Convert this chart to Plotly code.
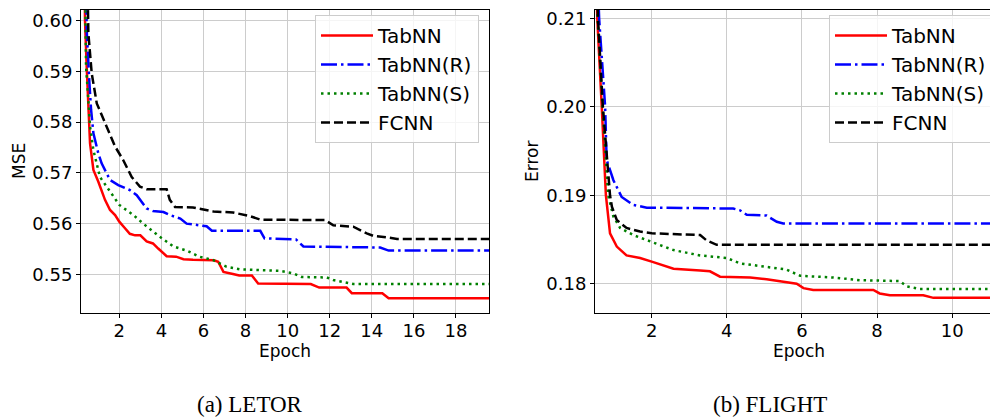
import plotly.graph_objects as go

# ---------------- data: (a) LETOR ----------------
letor_tabnn_x = [0.33, 0.37, 0.45, 0.53, 0.61, 0.77, 1.0, 1.32, 1.56, 1.8, 2.0, 2.25, 2.5, 2.75, 3.0, 3.3, 3.6, 3.85, 4.1, 4.25, 4.7, 5.05, 5.5, 6.5, 6.7, 6.95, 7.4, 7.7, 8.3, 8.6, 11.1, 11.5, 12.8, 13.05, 14.5, 14.8, 19.7]
letor_tabnn_y = [0.620, 0.6001, 0.5909, 0.5824, 0.5758, 0.5706, 0.5683, 0.5647, 0.5627, 0.5617, 0.5604, 0.5592, 0.5580, 0.5577, 0.5577, 0.5565, 0.5561, 0.5551, 0.5541, 0.5536, 0.5535, 0.5530, 0.5529, 0.5528, 0.5525, 0.5505, 0.5501, 0.5498, 0.5498, 0.5482, 0.5481, 0.5474, 0.5474, 0.5463, 0.5463, 0.5453, 0.5453]

letor_r_x = [0.40, 0.45, 0.58, 0.66, 0.77, 1.0, 1.16, 1.56, 1.95, 2.51, 2.83, 3.3, 3.6, 4.1, 4.4, 4.9, 5.2, 6.15, 6.4, 8.7, 8.9, 10.4, 10.75, 14.4, 14.8, 19.7]
letor_r_y = [0.620, 0.5982, 0.5877, 0.5824, 0.5778, 0.5739, 0.5719, 0.5686, 0.5676, 0.5666, 0.5656, 0.5630, 0.5625, 0.5623, 0.5617, 0.5610, 0.5600, 0.5595, 0.5586, 0.5586, 0.5571, 0.5569, 0.5555, 0.5553, 0.5547, 0.5547]

letor_s_x = [0.34, 0.38, 0.42, 0.53, 0.61, 0.77, 0.96, 1.08, 1.40, 1.72, 2.0, 2.67, 3.14, 3.93, 4.57, 5.2, 5.8, 6.47, 7.1, 7.73, 9.63, 10.27, 10.67, 11.86, 12.17, 12.65, 13.12, 19.7]
letor_s_y = [0.620, 0.6020, 0.5909, 0.5844, 0.5791, 0.5745, 0.5712, 0.5692, 0.5673, 0.5653, 0.5637, 0.5617, 0.5600, 0.5574, 0.5555, 0.5547, 0.5535, 0.5528, 0.5515, 0.5510, 0.5507, 0.5502, 0.5495, 0.5494, 0.5489, 0.5485, 0.5481, 0.5481]

letor_fcnn_x = [0.44, 0.53, 0.69, 0.93, 1.40, 1.80, 2.19, 2.59, 2.98, 3.30, 4.25, 4.4, 4.65, 5.5, 6.0, 6.47, 7.4, 7.9, 8.2, 8.7, 11.78, 12.17, 13.12, 13.76, 14.07, 14.7, 15.2, 19.7]
letor_fcnn_y = [0.620, 0.5975, 0.5896, 0.5837, 0.5791, 0.5752, 0.5725, 0.5692, 0.5673, 0.5668, 0.5668, 0.5647, 0.5633, 0.5632, 0.5628, 0.5624, 0.5622, 0.5617, 0.5615, 0.5608, 0.5607, 0.5597, 0.5594, 0.5581, 0.5576, 0.5573, 0.5570, 0.5570]

# ---------------- data: (b) FLIGHT ----------------
flight_tabnn_x = [0.50, 0.55, 0.67, 0.78, 0.89, 1.07, 1.33, 1.69, 2.0, 2.31, 2.58, 3.29, 3.55, 3.82, 4.62, 5.06, 5.59, 5.86, 6.04, 6.3, 7.9, 8.07, 8.34, 9.23, 9.5, 11.3]
flight_tabnn_y = [0.220, 0.210, 0.200, 0.190, 0.1857, 0.1842, 0.1832, 0.1829, 0.1825, 0.1821, 0.1817, 0.1815, 0.1814, 0.1808, 0.1807, 0.1805, 0.1802, 0.1800, 0.1795, 0.1793, 0.1793, 0.1789, 0.1787, 0.1787, 0.1784, 0.1784]

flight_r_x = [0.52, 0.60, 0.76, 0.80, 0.98, 1.2, 1.51, 1.87, 4.17, 4.35, 4.53, 5.06, 5.33, 5.5, 11.3]
flight_r_y = [0.220, 0.210, 0.200, 0.194, 0.1917, 0.1898, 0.1889, 0.1886, 0.1885, 0.1883, 0.1878, 0.1877, 0.1870, 0.1868, 0.1868]

flight_s_x = [0.50, 0.56, 0.69, 0.84, 0.98, 1.16, 1.51, 2.0, 2.58, 3.29, 4.0, 4.35, 5.06, 5.59, 5.95, 6.83, 7.54, 8.6, 8.79, 9.14, 11.3]
flight_s_y = [0.220, 0.210, 0.200, 0.190, 0.1876, 0.1863, 0.1855, 0.1847, 0.1838, 0.1832, 0.1829, 0.1823, 0.1819, 0.1816, 0.1809, 0.1807, 0.1804, 0.1803, 0.1797, 0.1794, 0.1794]

flight_fcnn_x = [0.50, 0.57, 0.70, 0.89, 0.94, 1.07, 1.33, 1.69, 2.0, 3.29, 3.46, 3.73, 11.3]
flight_fcnn_y = [0.220, 0.210, 0.200, 0.190, 0.1887, 0.1872, 0.1863, 0.1859, 0.1857, 0.1855, 0.1849, 0.1844, 0.1844]

series_names = ["TabNN", "TabNN(R)", "TabNN(S)", "FCNN"]
series_colors = ["#ff0000", "#0000ff", "#008000", "#000000"]
series_dash = ["solid", "16px,4px,2.5px,4px", "2.5px,4px", "9px,4px"]

x_ticks_left = [2, 4, 6, 8, 10, 12, 14, 16, 18]
y_ticks_left = [0.55, 0.56, 0.57, 0.58, 0.59, 0.60]
x_ticks_right = [2, 4, 6, 8, 10]
y_ticks_right = [0.18, 0.19, 0.20, 0.21]

# the page body has an 8px margin, so the figure is drawn 8px in from the window edge
OFF = 8
W, H = 998 - OFF, 420 - OFF
FONT = "DejaVu Sans"


def px(p):
    return (p - OFF) / W


def py(p):
    return 1 - (p - OFF) / H


fig = go.Figure()

left_data = [(letor_tabnn_x, letor_tabnn_y), (letor_r_x, letor_r_y),
             (letor_s_x, letor_s_y), (letor_fcnn_x, letor_fcnn_y)]
right_data = [(flight_tabnn_x, flight_tabnn_y), (flight_r_x, flight_r_y),
              (flight_s_x, flight_s_y), (flight_fcnn_x, flight_fcnn_y)]

for i, (xs, ys) in enumerate(left_data):
    fig.add_trace(go.Scatter(x=xs, y=ys, mode="lines", name=series_names[i],
                             line=dict(color=series_colors[i], width=2.5, dash=series_dash[i]),
                             xaxis="x", yaxis="y", legend="legend"))
for i, (xs, ys) in enumerate(right_data):
    fig.add_trace(go.Scatter(x=xs, y=ys, mode="lines", name=series_names[i],
                             line=dict(color=series_colors[i], width=2.5, dash=series_dash[i]),
                             xaxis="x2", yaxis="y2", legend="legend2"))

axis_common = dict(showline=True, mirror=True, linecolor="#000000", linewidth=1,
                   showgrid=True, gridcolor="#cccccc", gridwidth=1, zeroline=False,
                   ticks="outside", ticklen=4, tickcolor="#000000", automargin=False,
                   ticklabeloverflow="allow",
                   tickfont=dict(family=FONT, size=18, color="#000000"))

legend_common = dict(bgcolor="rgba(255,255,255,0.8)", bordercolor="#cccccc", borderwidth=1,
                     font=dict(family=FONT, size=20, color="#000000"), itemwidth=52,
                     xanchor="right", yanchor="top", traceorder="normal")

fig.update_layout(
    template="none",
    width=W, height=H, autosize=False,
    margin=dict(l=0, r=0, t=0, b=0, pad=0),
    paper_bgcolor="white", plot_bgcolor="white",
    xaxis=dict(domain=[px(81), px(489)], range=[0.18, 19.57], tickvals=x_ticks_left,
               anchor="y", ticklabelstandoff=-3, **axis_common),
    yaxis=dict(domain=[py(313), py(10)], range=[0.5424, 0.6021], tickvals=y_ticks_left,
               tickformat=".2f", anchor="x", **axis_common),
    xaxis2=dict(domain=[px(595), 1.0], range=[0.49, 11.22], tickvals=x_ticks_right,
                anchor="y2", ticklabelstandoff=-3, **axis_common),
    yaxis2=dict(domain=[py(313), py(10)], range=[0.17669, 0.21094], tickvals=y_ticks_right,
                tickformat=".2f", anchor="x2", **axis_common),
    legend=dict(x=px(479), y=py(15), **legend_common),
    legend2=dict(x=px(993), y=py(15), **legend_common),
    showlegend=True,
)

annots = [
    dict(text="MSE", x=px(18.5), y=py(161.5), textangle=-90, font=dict(family=FONT, size=17, color="#000000")),
    dict(text="Error", x=px(531.5), y=py(161.5), textangle=-90, font=dict(family=FONT, size=17, color="#000000")),
    dict(text="Epoch", x=px(285), y=py(351), font=dict(family=FONT, size=17, color="#000000")),
    dict(text="Epoch", x=px(799), y=py(351), font=dict(family=FONT, size=17, color="#000000")),
    dict(text="(a) LETOR", x=px(250), y=py(404), font=dict(family="Liberation Serif", size=23, color="#000000")),
    dict(text="(b) FLIGHT", x=px(770), y=py(404), font=dict(family="Liberation Serif", size=23, color="#000000")),
]
for a in annots:
    fig.add_annotation(xref="paper", yref="paper", showarrow=False,
                       xanchor="center", yanchor="middle", **a)

fig.write_html("out.html")
